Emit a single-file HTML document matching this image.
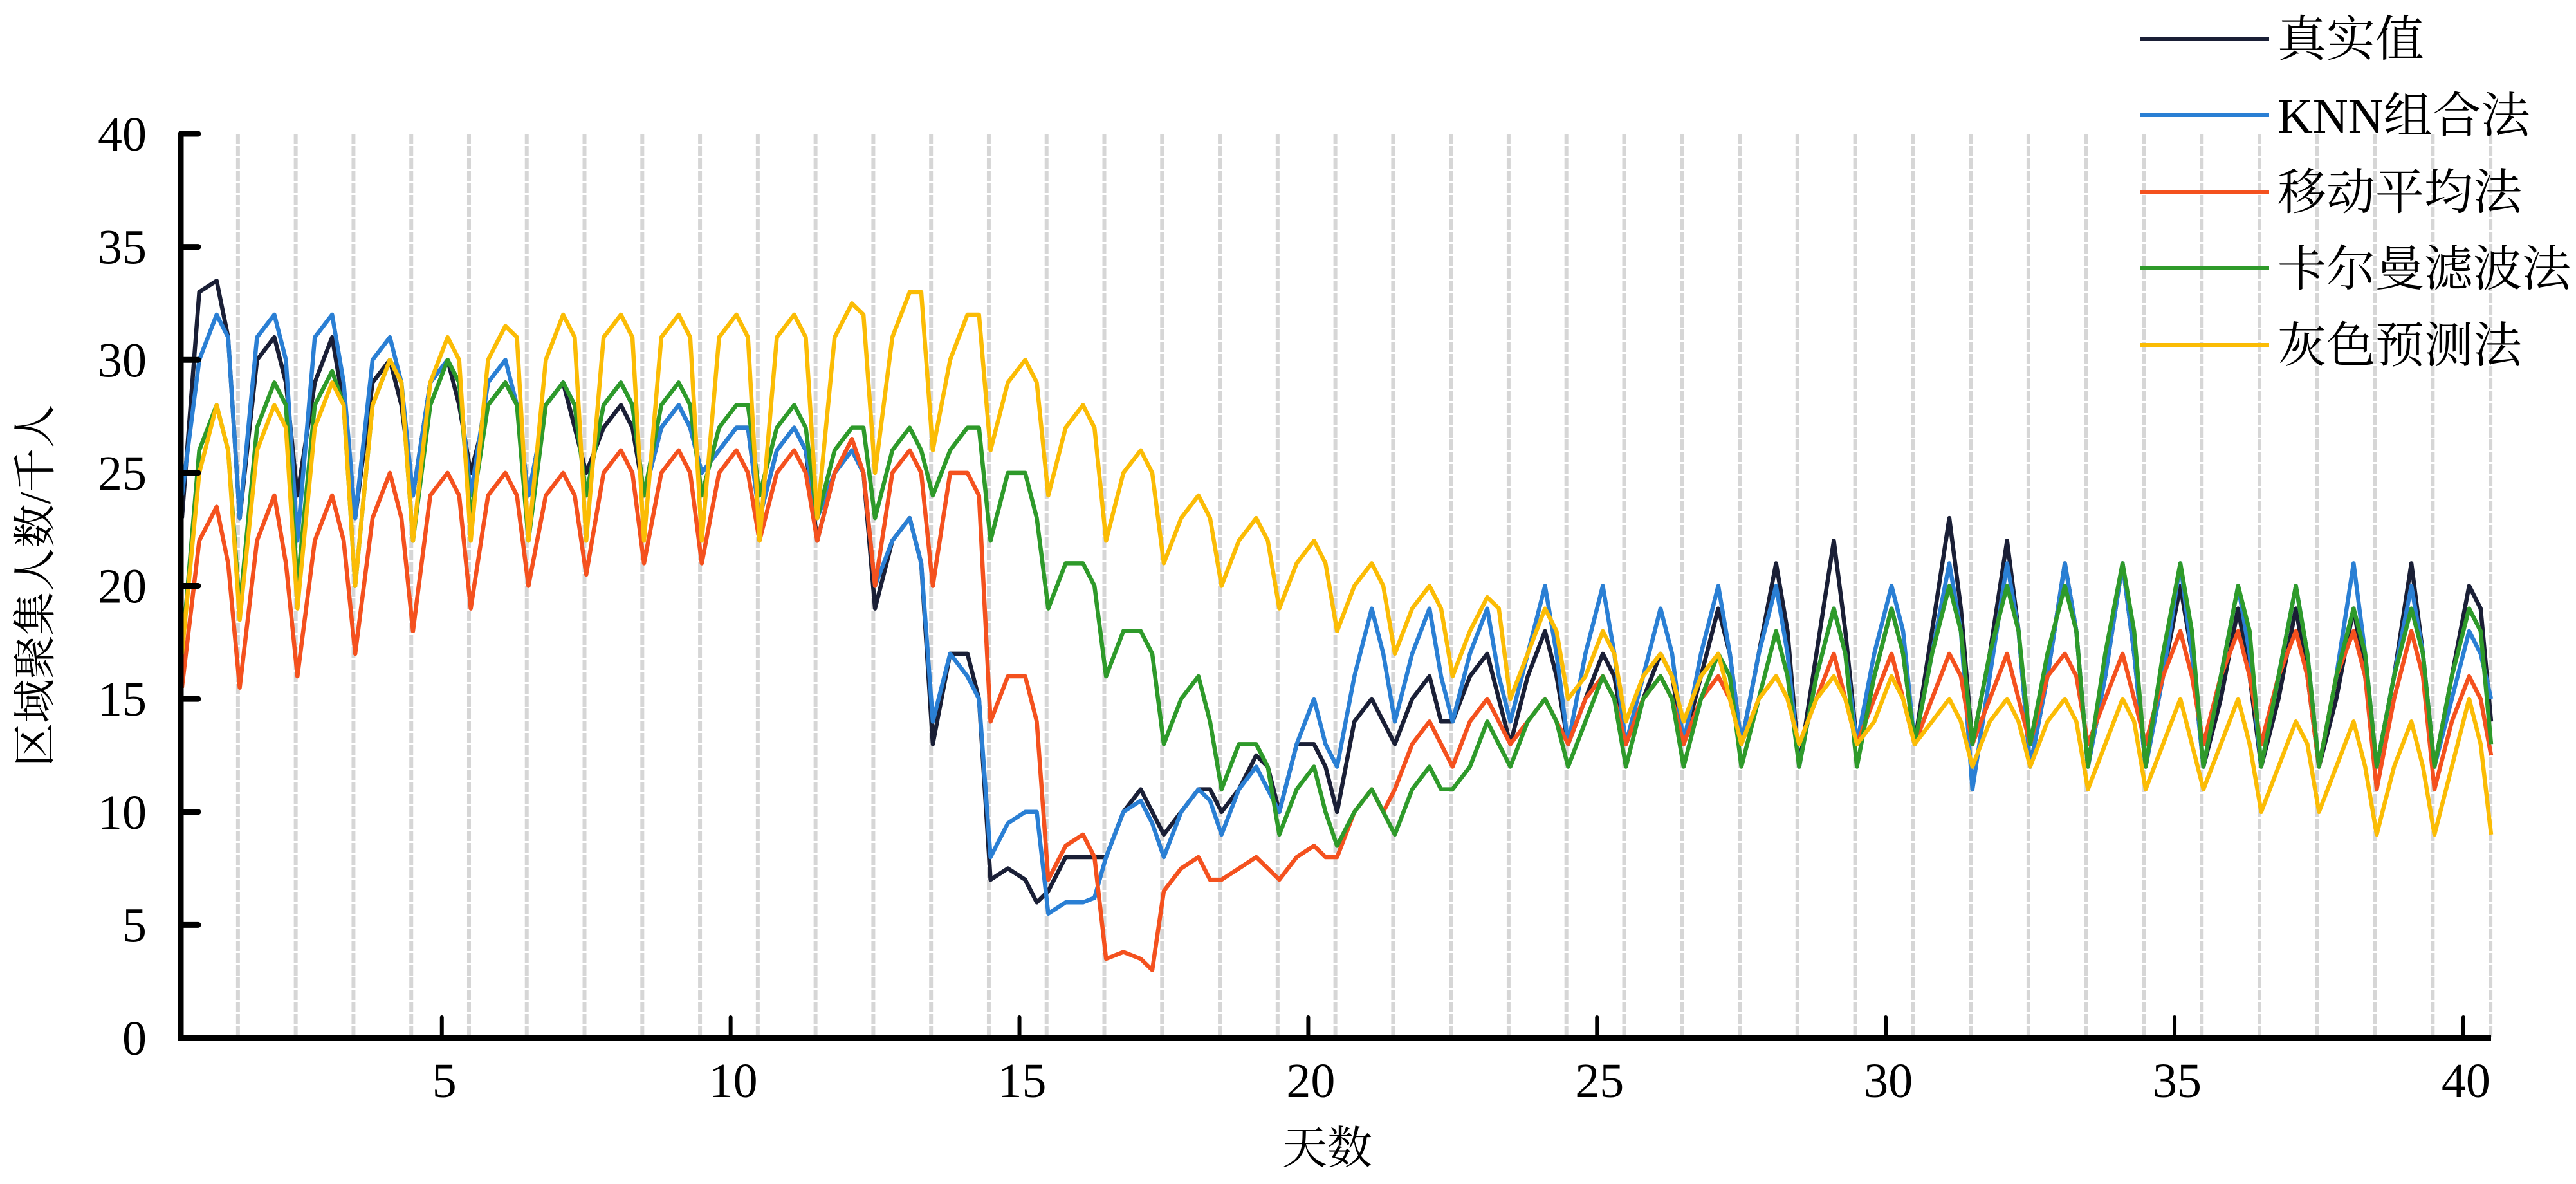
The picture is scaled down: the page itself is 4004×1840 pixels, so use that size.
<!DOCTYPE html>
<html><head><meta charset="utf-8"><style>
html,body{margin:0;padding:0;background:#fff;}
svg{display:block;}
text{font-family:"Liberation Serif","Noto Serif CJK SC",serif;fill:#000;}
</style></head><body>
<svg id="chart" width="4004" height="1840" viewBox="0 0 4004 1840" xmlns="http://www.w3.org/2000/svg">
<g id="grid"></g>
<g id="series"></g>
<g id="axes"></g>
<text transform="translate(78,910) rotate(-90)" font-size="68" text-anchor="middle">区域聚集人数/千人</text>
<text x="2063" y="1808" font-size="70" text-anchor="middle">天数</text>
<g id="legend"></g>
</svg>
<script>
const yTicks=[0,5,10,15,20,25,30,35,40];
const xTicks=[5,10,15,20,25,30,35,40];
const seriesNames=["真实值","KNN组合法","移动平均法","卡尔曼滤波法","灰色预测法"];
const seriesColors=["#1a1f36","#2a7fd4","#f4511e","#2e9a2a","#fbbc05"];
// sample offsets within each day (day d covers d+0.5 .. d+1.5)
const dayOffsets=[0.5,0.8,1.1,1.3];
const realVals=[23,33,33.5,31, 23,30,31,29, 24,29,31,28, 23,29,30,28, 24,29,30,28, 25,28,29,28, 24,28,29,27, 25,27,28,27, 24,27,28,27, 25,26,27,27,
23,26,27,26, 22,25,26,25, 19,22,23,21, 13,17,17,15, 7,7.5,7,6, 6.5,8,8,8, 8,10,11,10, 9,10,11,11, 10,11,12.5,12, 10,13,13,12,
10,14,15,14, 13,15,16,14, 14,16,17,15, 13,16,18,16, 13,15,17,16, 13,15,17,16, 13,16,19,17, 13,17,21,18, 12,17,22,18, 13,16,19,17,
13,18,23,19, 13,17,22,18, 12,16,21,18, 12,16,21,17, 12,16,20,17, 12,15,19,16, 12,15,19,16, 12,15,19,16, 12,16,21,17, 12,16,20,19, 14];
const knnVals=[24,30,32,31, 23,31,32,30, 22,31,32,29, 23,30,31,29, 24,29,30,29, 24,29,30,28, 24,28,29,28, 24,28,29,28, 24,27,28,27, 25,26,27,27,
23,26,27,26, 23,25,26,25, 20,22,23,21, 14,17,16,15, 8,9.5,10,10, 5.5,6,6,6.2, 8,10,10.5,9.5, 8,10,11,10.5, 9,11,12,11, 10,13,15,13,
12,16,19,17, 14,17,19,16, 14,17,19,16, 14,17,20,17, 13,17,20,17, 13,16,19,17, 13,17,20,17, 13,17,20,17, 12,16,19,17, 13,17,20,18,
13,17,21,18, 11,16,21,18, 12,16,21,18, 12,16,21,17, 12,16,21,17, 12,16,20,17, 12,16,20,17, 12,16,21,17, 12,16,20,17, 12,15,18,17, 15];
const maVals=[15.5,22,23.5,21, 15.5,22,24,21, 16,22,24,22, 17,23,25,23, 18,24,25,24, 19,24,25,24, 20,24,25,24, 20.5,25,26,25, 21,25,26,25, 21,25,26,25,
22,25,26,25, 22,25,26.5,25, 20,25,26,25, 20,25,25,24, 14,16,16,14, 7,8.5,9,8, 3.5,3.8,3.5,3, 6.5,7.5,8,7, 7,7.5,8,7.5, 7,8,8.5,8,
8,10,11,10, 11,13,14,13, 12,14,15,14, 13,14,15,14, 13,15,16,15, 13,15,16,15, 13,15,16,15, 13,15,16,15, 13,15,17,15, 13,15,17,15,
13,15,17,16, 13,15,17,15, 13,16,17,16, 13,15,17,15, 13,16,18,16, 13,16,18,16, 13,16,18,16, 12,16,18,16, 11,15,18,16, 11,14,16,15, 12.5];
const kalmanVals=[17,26,28,26, 19,27,29,28, 20,28,29.5,28, 20,28,30,29, 22,28,30,29, 23,28,29,28, 22,28,29,28, 24,28,29,28, 24,28,29,28, 24,27,28,28,
24,27,28,27, 23,26,27,27, 23,26,27,26, 24,26,27,27, 22,25,25,23, 19,21,21,20, 16,18,18,17, 13,15,16,14, 11,13,13,12, 9,11,12,10,
8.5,10,11,10, 9,11,12,11, 11,12,14,13, 12,14,15,14, 12,14,16,15, 12,15,16,15, 12,15,17,16, 12,15,18,16, 12,16,19,17, 12,16,19,17,
13,17,20,18, 13,17,20,18, 13,17,20,18, 12,17,21,18, 12,17,21,18, 12,16,20,18, 12,16,20,17, 12,16,19,17, 12,16,19,17, 12,16,19,18, 13];
const greyVals=[17,25,28,26, 18.5,26,28,27, 19,27,29,28, 20,28,30,29, 22,29,31,30, 22,30,31.5,31, 22,30,32,31, 22,31,32,31, 22,31,32,31, 22,31,32,31,
22,31,32,31, 23,31,32.5,32, 25,31,33,33, 26,30,32,32, 26,29,30,29, 24,27,28,27, 22,25,26,25, 21,23,24,23, 20,22,23,22, 19,21,22,21,
18,20,21,20, 17,19,20,19, 16,18,19.5,19, 15,17,19,18, 15,16,18,17, 14,16,17,16, 14,16,17,15, 13,15,16,15, 13,15,16,15, 13,14,16,15,
13,14,15,14, 12,14,15,14, 12,14,15,14, 11,13,15,14, 11,13,15,13, 11,13,15,13, 10,12,14,13, 10,12,14,12, 9,12,14,12, 9,12,15,13, 9];
const allSeries=[realVals,knnVals,maVals,kalmanVals,greyVals];
const seriesKeys=["real","knn","moving-average","kalman","grey"];

const NS="http://www.w3.org/2000/svg";
const X0=281,X1=3872,DAY0=0.48,DAY1=40.48;
const Y0=1613,Y1=208;
function sx(d){return X0+(d-DAY0)/(DAY1-DAY0)*(X1-X0);}
function sy(v){return Y0-(v/40)*(Y0-Y1);}
function el(tag,attrs){const e=document.createElementNS(NS,tag);for(const k in attrs)e.setAttribute(k,attrs[k]);return e;}

const grid=document.getElementById('grid');
for(let d=1;d<=40;d++){
  const x=sx(d+0.47);
  const l=el('line',{x1:x,x2:x,y1:Y1,y2:Y0,stroke:'#d6d6d6','stroke-width':6,'stroke-dasharray':'16 3'});
  
  
  grid.appendChild(l);
}
function xOf(i){const n=dayOffsets.length;const d=Math.floor(i/n);return (i===n*40)?40.48:d+dayOffsets[i%n];}
const sg=document.getElementById('series');
allSeries.forEach((vals,si)=>{
  let pts=vals.map((v,i)=>sx(xOf(i)).toFixed(1)+','+sy(v).toFixed(1)).join(' ');
  const p=el('polyline',{points:pts,fill:'none',stroke:seriesColors[si],'stroke-width':6.5,'stroke-linejoin':'round'});
  
  
  sg.appendChild(p);
});
const ax=document.getElementById('axes');
const ya=el('path',{d:`M${X0},${Y1} L${X0},${Y0} L${X1},${Y0}`,fill:'none',stroke:'#000','stroke-width':9});


ax.appendChild(ya);
yTicks.forEach(v=>{
  const y=sy(v);
  if(v>0){const t=el('line',{x1:X0,x2:X0+27,y1:y,y2:y,stroke:'#000','stroke-width':9,'stroke-linecap':'round'});
  
  
  ax.appendChild(t);}
  const tx=el('text',{x:228,y:y+26,'font-size':76,'text-anchor':'end'});
  
  
  tx.textContent=v;ax.appendChild(tx);
});
xTicks.forEach(v=>{
  const x=sx(v);
  const t=el('line',{x1:x,x2:x,y1:Y0,y2:Y0-32,stroke:'#000','stroke-width':6,'stroke-linecap':'round'});
  
  
  ax.appendChild(t);
  const tx=el('text',{x:x+4,y:1705,'font-size':76,'text-anchor':'middle'});
  
  
  tx.textContent=v;ax.appendChild(tx);
});
const lg=document.getElementById('legend');
seriesNames.forEach((n,i)=>{
  const y=60+i*119;
  const g=el('g',{});
  
  
  const l=el('line',{x1:3326,x2:3527,y1:y,y2:y,stroke:seriesColors[i],'stroke-width':6});
  
  
  const t=el('text',{x:3540,y:y+27,'font-size':76});
  
  
  t.textContent=n;
  g.appendChild(l);g.appendChild(t);lg.appendChild(g);
});
</script>
</body></html>
